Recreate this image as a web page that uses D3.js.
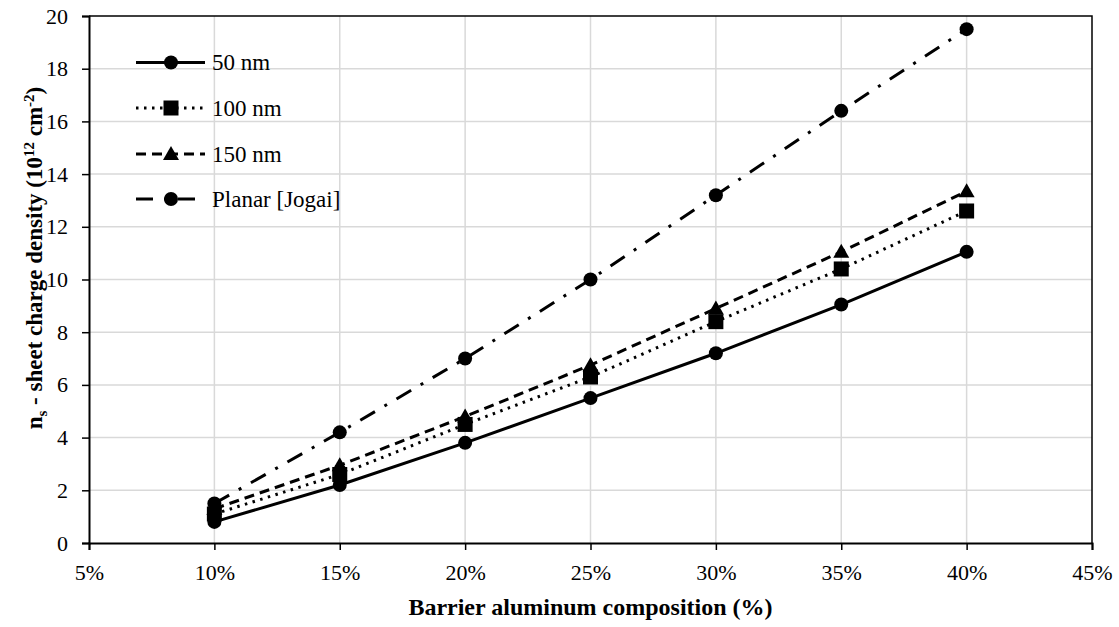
<!DOCTYPE html>
<html>
<head>
<meta charset="utf-8">
<script src="https://cdn.jsdelivr.net/npm/d3@7"></script>
<style>
  html, body { margin: 0; padding: 0; background: #fff; }
  svg { display: block; }
</style>
</head>
<body>
<svg id="chart" width="1119" height="627"></svg>
<script>
// Aluminium composition of the barrier (fraction)
const composition = [0.10, 0.15, 0.20, 0.25, 0.30, 0.35, 0.40];

// Sheet charge density, 10^12 cm^-2
const ns50 = [0.8, 2.2, 3.8, 5.5, 7.2, 9.05, 11.05];
const ns100 = [1.1, 2.6, 4.5, 6.3, 8.4, 10.4, 12.6];
const ns150 = [1.3, 2.95, 4.8, 6.75, 8.9, 11.05, 13.35];
const nsPlanar = [1.5, 4.2, 7.0, 10.0, 13.2, 16.4, 19.5];

const seriesNames = ["50 nm", "100 nm", "150 nm", "Planar [Jogai]"];
const xTicks = [0.05, 0.10, 0.15, 0.20, 0.25, 0.30, 0.35, 0.40, 0.45];
const yTicks = [0, 2, 4, 6, 8, 10, 12, 14, 16, 18, 20];

const series = [
  { name: seriesNames[0], values: ns50, dash: null, marker: "circle", legendEnd: 205 },
  { name: seriesNames[1], values: ns100, dash: "2.5,5.5", marker: "square", legendEnd: 205 },
  { name: seriesNames[2], values: ns150, dash: "10,6", marker: "triangle", legendEnd: 205 },
  { name: seriesNames[3], values: nsPlanar, dash: "17,11,3,11", marker: "circle", legendEnd: 195 }
];

const svg = d3.select("#chart");
const plotLeft = 89, plotRight = 1092, plotTop = 16, plotBottom = 543;
const font = "'Liberation Serif', 'Times New Roman', serif";

const x = d3.scaleLinear().domain([0.05, 0.45]).range([plotLeft, plotRight]);
const y = d3.scaleLinear().domain([0, 20]).range([plotBottom, plotTop]);

// Grid
const grid = svg.append("g").attr("stroke", "#d9d9d9").attr("stroke-width", 1.5);
grid.selectAll("line.h").data(yTicks.filter(d => d > 0 && d < 20)).join("line")
  .attr("x1", plotLeft).attr("x2", plotRight)
  .attr("y1", d => y(d)).attr("y2", d => y(d));
grid.selectAll("line.v").data(xTicks.filter(d => d > 0.06 && d < 0.44)).join("line")
  .attr("y1", plotTop).attr("y2", plotBottom)
  .attr("x1", d => x(d)).attr("x2", d => x(d));

// Plot frame (top and right)
svg.append("path")
  .attr("d", `M${plotLeft},${plotTop}H${plotRight}V${plotBottom}`)
  .attr("fill", "none").attr("stroke", "#000").attr("stroke-width", 1.5);

// Axes
const xAxis = svg.append("g").attr("transform", `translate(0,${plotBottom})`)
  .call(d3.axisBottom(x).tickValues(xTicks).tickFormat(d3.format(".0%")).tickSize(7).tickPadding(14));
const yAxis = svg.append("g").attr("transform", `translate(${plotLeft},0)`)
  .call(d3.axisLeft(y).tickValues(yTicks).tickSize(7).tickPadding(14));
[xAxis, yAxis].forEach(a => {
  a.select(".domain").attr("stroke", "#000").attr("stroke-width", 2);
  a.selectAll(".tick line").attr("stroke", "#000").attr("stroke-width", 1.5);
  a.selectAll(".tick text").attr("font-family", font).attr("font-size", 22).attr("fill", "#000");
});

// Marker drawing
function drawMarker(g, type, cx, cy) {
  if (type === "circle") {
    g.append("circle").attr("cx", cx).attr("cy", cy).attr("r", 7).attr("fill", "#000");
  } else if (type === "square") {
    g.append("rect").attr("x", cx - 7.5).attr("y", cy - 7.5).attr("width", 15).attr("height", 15).attr("fill", "#000");
  } else {
    g.append("path").attr("d", `M${cx},${cy - 8}L${cx + 8},${cy + 6}L${cx - 8},${cy + 6}Z`).attr("fill", "#000");
  }
}

const line = d3.line().x((d, i) => x(composition[i])).y(d => y(d));
const plot = svg.append("g");
series.forEach(s => {
  plot.append("path").datum(s.values)
    .attr("d", line)
    .attr("fill", "none").attr("stroke", "#000").attr("stroke-width", 3)
    .attr("stroke-dasharray", s.dash);
});
series.forEach(s => {
  const g = plot.append("g");
  s.values.forEach((v, i) => drawMarker(g, s.marker, x(composition[i]), y(v)));
});

// Legend
const legendRows = [62.5, 108, 154, 199];
const legend = svg.append("g");
series.forEach((s, i) => {
  const ly = legendRows[i];
  legend.append("line")
    .attr("x1", 136).attr("x2", s.legendEnd).attr("y1", ly).attr("y2", ly)
    .attr("stroke", "#000").attr("stroke-width", 3)
    .attr("stroke-dasharray", s.dash);
  drawMarker(legend, s.marker, 171, ly);
  legend.append("text").attr("x", 212).attr("y", ly + 7.5)
    .attr("font-family", font).attr("font-size", 23).text(s.name);
});

// Axis titles
svg.append("text")
  .attr("x", (plotLeft + plotRight) / 2).attr("y", 615)
  .attr("text-anchor", "middle").attr("font-family", font)
  .attr("font-size", 24).attr("font-weight", "bold")
  .text("Barrier aluminum composition (%)");

const yt = svg.append("text")
  .attr("transform", `translate(42,258) rotate(-90)`)
  .attr("text-anchor", "middle").attr("font-family", font)
  .attr("font-size", 23).attr("font-weight", "bold");
yt.append("tspan").text("n");
yt.append("tspan").attr("font-size", 15).attr("dy", 5).text("s");
yt.append("tspan").attr("dy", -5).text(" - sheet charge density (10");
yt.append("tspan").attr("font-size", 15).attr("dy", -8).text("12");
yt.append("tspan").attr("dy", 8).text(" cm");
yt.append("tspan").attr("font-size", 15).attr("dy", -8).text("-2");
yt.append("tspan").attr("dy", 8).text(")");
</script>
</body>
</html>
